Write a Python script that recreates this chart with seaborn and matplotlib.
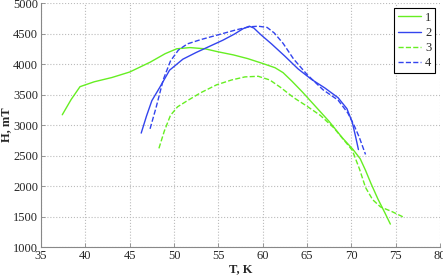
import numpy as np
import pandas as pd
import seaborn as sns
import matplotlib
matplotlib.use("Agg")
import matplotlib.pyplot as plt

# curve 1: green solid
t1 = [37.4, 38.4, 39.4, 41.0, 43.0, 45.0, 47.3, 49.0, 50.3, 51.8, 53.5, 55.0, 56.7, 58.3, 60.0, 61.4, 62.3, 63.3, 64.5, 66.0, 67.5, 69.0, 70.2, 71.0, 71.6, 72.2, 73.0, 73.8, 74.4]
h1 = [3170, 3420, 3630, 3710, 3780, 3870, 4030, 4170, 4250, 4270, 4250, 4200, 4150, 4090, 4010, 3940, 3860, 3720, 3540, 3300, 3060, 2790, 2600, 2450, 2260, 2050, 1790, 1560, 1380]

# curve 2: blue solid
t2 = [46.3, 46.9, 47.5, 48.4, 49.5, 51.0, 52.5, 54.0, 55.5, 56.8, 57.8, 58.5, 59.0, 59.8, 61.0, 62.5, 64.0, 65.5, 67.0, 68.5, 69.5, 70.1, 70.5, 70.8]
h2 = [2870, 3150, 3400, 3620, 3900, 4080, 4190, 4290, 4390, 4490, 4580, 4620, 4590, 4480, 4330, 4130, 3920, 3750, 3610, 3450, 3270, 3050, 2800, 2600]

# curve 3: green dashed
t3 = [48.3, 48.9, 49.6, 50.4, 51.5, 53.0, 54.8, 56.5, 58.0, 59.5, 60.8, 62.0, 63.5, 65.0, 66.5, 68.0, 69.2, 70.1, 70.9, 71.6, 72.4, 73.3, 74.5, 75.8]
h3 = [2620, 2900, 3160, 3300, 3400, 3530, 3660, 3740, 3790, 3800, 3740, 3620, 3450, 3310, 3160, 2960, 2750, 2590, 2290, 1980, 1780, 1660, 1590, 1500]

# curve 4: blue dashed
t4 = [47.3, 48.0, 48.8, 49.6, 50.5, 51.5, 53.0, 55.0, 57.0, 58.5, 59.5, 60.5, 61.3, 62.3, 63.5, 65.0, 66.8, 68.5, 69.6, 70.3, 70.9, 71.6]
h4 = [2940, 3300, 3750, 4050, 4230, 4330, 4400, 4480, 4560, 4610, 4620, 4600, 4510, 4340, 4080, 3830, 3580, 3410, 3200, 3000, 2800, 2520]

labels = ["1", "2", "3", "4"]
green = "#66ee22"
blue = "#3344ee"

x_ticks = np.arange(35, 81, 5)
y_ticks = np.arange(1000, 5001, 500)

sns.set_style("whitegrid")
plt.rcParams['font.family'] = ['Liberation Serif', 'DejaVu Serif']
plt.rcParams['mathtext.fontset'] = 'stix'

fig = plt.figure(figsize=(4.43, 2.75), dpi=100)
ax = fig.add_axes([41 / 443, 1 - 247.3 / 275, 399 / 443, 244.3 / 275])

series = [(t1, h1, green, "-"), (t2, h2, blue, "-"),
          (t3, h3, green, "--"), (t4, h4, blue, "--")]
for (t, h, c, ls), lab in zip(series, labels):
    df = pd.DataFrame({"T": t, "H": h})
    sns.lineplot(data=df, x="T", y="H", sort=False, color=c, linestyle=ls,
                 linewidth=1.0, label=lab, ax=ax)

ax.set_xlim(35, 80)
ax.set_ylim(1000, 5000)
ax.set_xticks(x_ticks)
ax.set_yticks(y_ticks)
ax.tick_params(labelsize=9, direction="in", length=3, width=0.6, color="#888888",
               pad=2, left=True, bottom=True)
ax.grid(True, linestyle=":", color="#bbbbbb", linewidth=0.8)
for side in ["top", "right"]:
    ax.spines[side].set_visible(False)
for side in ["left", "bottom"]:
    ax.spines[side].set_color("#888888")
    ax.spines[side].set_linewidth(0.8)

ax.set_xlabel("T, K", fontsize=9, fontweight="bold", labelpad=1)
ax.set_ylabel("H, mT", fontsize=9, fontweight="bold", labelpad=1)

leg = ax.legend(loc="upper right", fontsize=9, fancybox=False, framealpha=1,
                edgecolor="black", handlelength=1.9, labelspacing=0.25,
                borderaxespad=0.4, borderpad=0.3, handletextpad=0.3)
leg.get_frame().set_linewidth(0.8)

fig.savefig("out.png", dpi=100)
